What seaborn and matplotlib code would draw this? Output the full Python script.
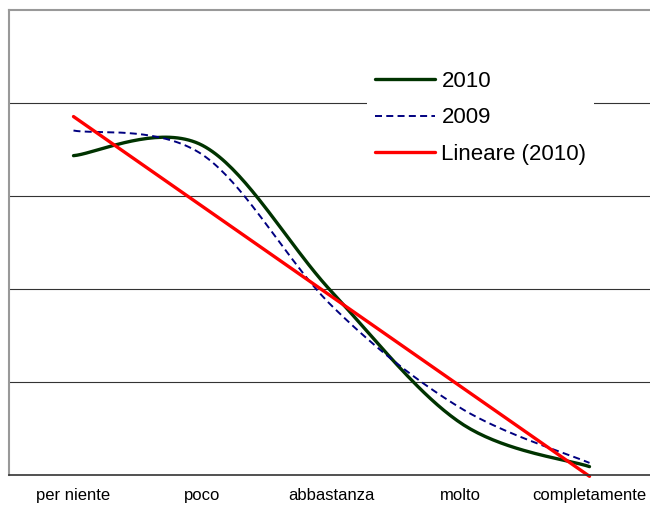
import numpy as np
import pandas as pd
import matplotlib
matplotlib.use("Agg")
import matplotlib.pyplot as plt
import seaborn as sns

# --- Data (y axis 0-50) ---
categories = ["per niente", "poco", "abbastanza", "molto", "completamente"]
values_2010 = [34.3, 35.4, 19.7, 5.6, 0.9]
values_2009 = [37.0, 34.4, 18.2, 7.2, 1.3]

GREEN = "#003300"
NAVY = "#000080"
RED = "#FF0000"


def excel_smooth(xs, ys, steps=40):
    # Excel style smoothed line: cubic bezier between points, catmull-rom controls
    xs = np.asarray(xs, dtype=float)
    ys = np.asarray(ys, dtype=float)
    n = len(xs)
    out_x, out_y = [], []
    t = np.linspace(0, 1, steps)
    for i in range(n - 1):
        i0 = max(i - 1, 0)
        i3 = min(i + 2, n - 1)
        p0 = np.array([xs[i], ys[i]])
        p3 = np.array([xs[i + 1], ys[i + 1]])
        c1 = p0 + (np.array([xs[i + 1], ys[i + 1]]) - np.array([xs[i0], ys[i0]])) / 6
        c2 = p3 - (np.array([xs[i3], ys[i3]]) - np.array([xs[i], ys[i]])) / 6
        bx = (1 - t) ** 3 * p0[0] + 3 * (1 - t) ** 2 * t * c1[0] + 3 * (1 - t) * t ** 2 * c2[0] + t ** 3 * p3[0]
        by = (1 - t) ** 3 * p0[1] + 3 * (1 - t) ** 2 * t * c1[1] + 3 * (1 - t) * t ** 2 * c2[1] + t ** 3 * p3[1]
        if i > 0:
            bx, by = bx[1:], by[1:]
        out_x.extend(bx)
        out_y.extend(by)
    return np.array(out_x), np.array(out_y)


sns.set_style("white")
plt.rcParams["font.family"] = ["Liberation Sans", "DejaVu Sans"]
plt.rcParams["text.color"] = "black"
plt.rcParams["xtick.color"] = "black"

x_pos = np.arange(len(categories))

# linear trend of 2010 (Excel "Lineare"), x = 1..5
coef = np.polyfit(x_pos + 1, values_2010, 1)
trend = np.polyval(coef, x_pos + 1)

fig = plt.figure(figsize=(6.5, 5.05), dpi=100)
ax = fig.add_axes([9 / 650, 30 / 505, 645 / 650, 465.5 / 505])

sx, sy = excel_smooth(x_pos, values_2010)
df10 = pd.DataFrame({"x": sx, "y": sy})
sns.lineplot(data=df10, x="x", y="y", ax=ax, color=GREEN, lw=2.4, sort=False,
             label="2010", clip_on=False)

sx, sy = excel_smooth(x_pos, values_2009)
df09 = pd.DataFrame({"x": sx, "y": sy})
sns.lineplot(data=df09, x="x", y="y", ax=ax, color=NAVY, lw=1.4, sort=False,
             label="2009", clip_on=False)
ax.lines[-1].set_linestyle((0, (3.6, 2.2)))

df_tr = pd.DataFrame({"x": x_pos, "y": trend})
sns.lineplot(data=df_tr, x="x", y="y", ax=ax, color=RED, lw=2.4, sort=False,
             label="Lineare (2010)", clip_on=False)

ax.set_xlim(-0.5, len(categories) - 0.5)
ax.set_ylim(0, 50)

# y gridlines, no labels
ax.set_yticks([10, 20, 30, 40])
ax.set_yticklabels([])
ax.tick_params(axis="y", length=0)
ax.yaxis.grid(True, color="#333333", lw=0.8)
ax.set_axisbelow(True)

# category labels in the middle, tick marks on the boundaries
ax.set_xticks(x_pos)
ax.set_xticklabels(categories, fontsize=12, color="black")
ax.set_xticks(np.arange(-0.5, len(categories), 1.0), minor=True)
ax.tick_params(axis="x", which="major", length=0, pad=9.5)
ax.tick_params(axis="x", which="minor", length=5, width=1, color="#333333",
               direction="out")
ax.set_xlabel("")
ax.set_ylabel("")

for side in ["top", "left"]:
    ax.spines[side].set_visible(True)
    ax.spines[side].set_color("#999999")
    ax.spines[side].set_linewidth(1.5)
ax.spines["right"].set_visible(False)
ax.spines["bottom"].set_color("#333333")
ax.spines["bottom"].set_linewidth(1.2)

leg = ax.legend(loc="upper left", bbox_to_anchor=(0.555, 0.885), borderaxespad=0,
                fontsize=16, frameon=True, fancybox=False, framealpha=1,
                handlelength=2.7, handletextpad=0.3, labelspacing=0.7,
                borderpad=0.35)
leg.get_frame().set_edgecolor("none")
leg.get_frame().set_facecolor("white")
for txt in leg.get_texts():
    txt.set_color("black")

fig.savefig("out.png", dpi=100)
